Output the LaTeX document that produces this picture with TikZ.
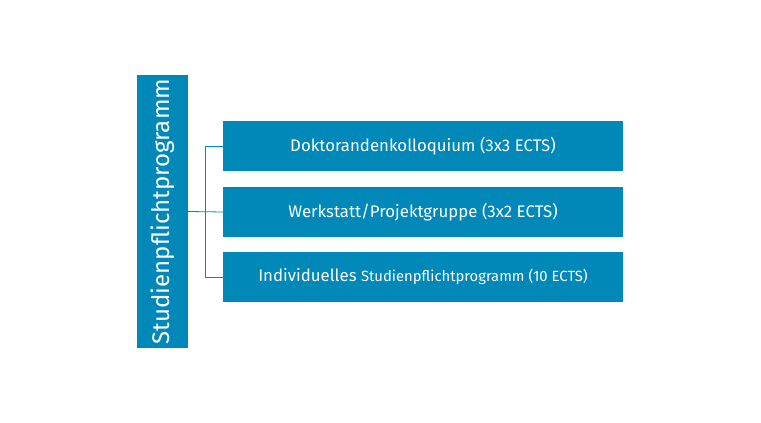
\documentclass[tikz,border=0pt]{standalone}
\usepackage{fontspec}
\setmainfont{Fira Sans}
\definecolor{bl}{HTML}{0088B9}
\begin{document}
\begin{tikzpicture}[x=1pt,y=1pt,
  box/.style={fill=bl,text=white,minimum width=400pt,minimum height=50pt,inner sep=0pt,font=\fontsize{16.8}{19}\selectfont},
  conn/.style={draw=bl,line width=0.8pt}]
\useasboundingbox (0,0) rectangle (761,423);
\node[fill=bl,text=white,minimum width=273pt,minimum height=51pt,inner sep=0pt,rotate=90,font=\fontsize{24}{28}\selectfont] (v) at (162.5,211.5) {Studienpflichtprogramm};
\node[box] (a) at (423,277) {Doktorandenkolloquium (3x3 ECTS)};
\node[box] (b) at (423,211) {Werkstatt/Projektgruppe (3x2 ECTS)};
\node[box] (c) at (423,146) {Individuelles {\fontsize{14.8}{17}\selectfont Studienpflichtprogramm (10 ECTS)}};
\coordinate (j) at (205,211);
\draw[conn] (v.south) -- (b.west);
\draw[conn] (a.west) -- (j|-a.west) -- (j|-c.west) -- (c.west);
\end{tikzpicture}
\end{document}
